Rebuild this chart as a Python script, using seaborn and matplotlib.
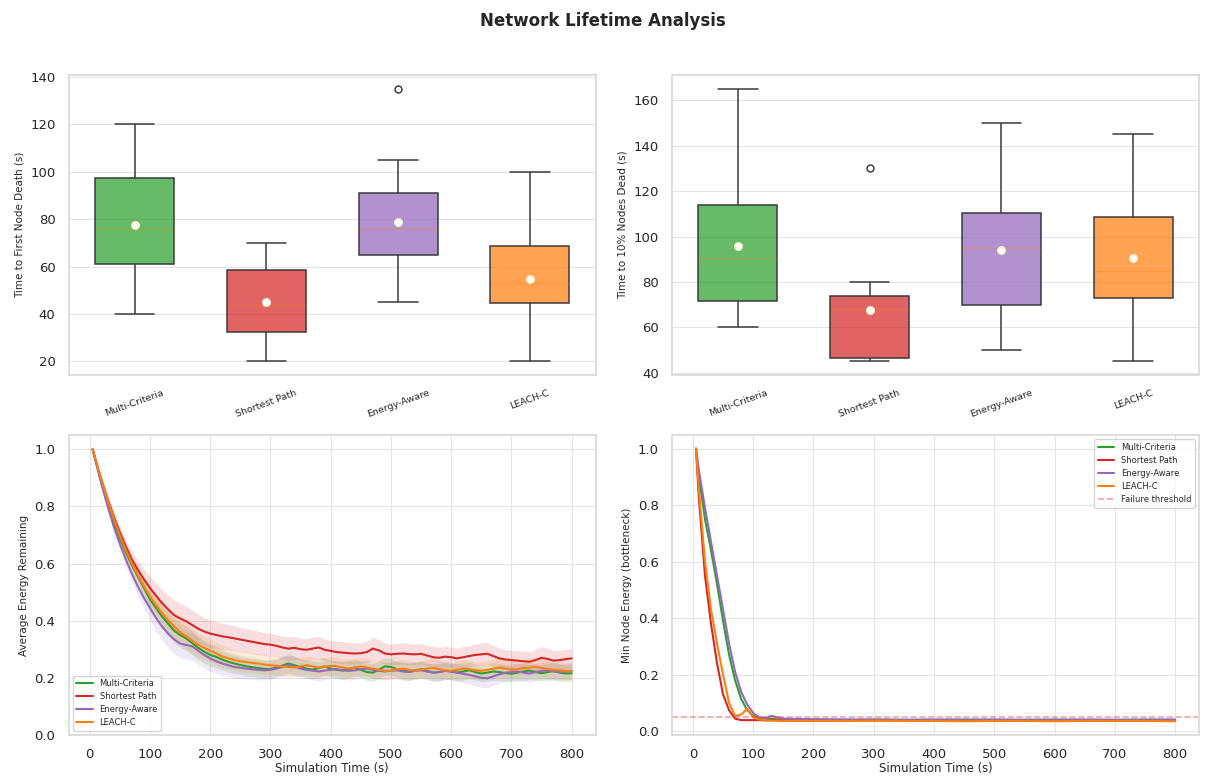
import numpy as np
import pandas as pd
import seaborn as sns
import matplotlib.pyplot as plt
from matplotlib.colors import to_rgba

protocols = ['Multi-Criteria', 'Shortest Path', 'Energy-Aware', 'LEACH-C']
colors = ['#2ca02c', '#d62728', '#9467bd', '#ff7f0e']

# time to first node death (s), per run
fnd_multi = [40, 50, 61, 70, 76, 85, 97.5, 98, 120]
fnd_shortest = [20, 28, 32.5, 40, 44, 50, 58.5, 62, 70]
fnd_energy = [45, 47, 65, 67, 76, 80, 91, 105, 135]
fnd_leach = [20, 32, 44.7, 47, 53, 58, 68.7, 71.6, 100]

# time to 10% nodes dead (s), per run
tnd_multi = [60, 65, 71.5, 80, 90, 100, 114, 118.5, 165]
tnd_shortest = [45, 46, 46.5, 48, 68, 70, 74, 80, 130]
tnd_energy = [50, 60, 70, 85, 95, 105, 110.5, 120.5, 150]
tnd_leach = [45, 60, 73, 80, 85, 100, 108.7, 118.7, 145]

# average remaining energy over time
avg_times = [5, 10, 20, 30, 40, 50, 60, 70, 80, 90,
             100, 110, 120, 130, 140, 150, 160, 170, 180, 190,
             200, 210, 220, 230, 240, 250, 260, 270, 280, 290,
             300, 310, 320, 330, 340, 350, 360, 370, 380, 390,
             400, 410, 420, 430, 440, 450, 460, 470, 480, 490,
             500, 510, 520, 530, 540, 550, 560, 570, 580, 590,
             600, 610, 620, 630, 640, 650, 660, 670, 680, 690,
             700, 710, 720, 730, 740, 750, 760, 770, 780, 790,
             800]

avg_multi = [1.0, 0.96, 0.88, 0.81, 0.745, 0.69, 0.64, 0.595, 0.555, 0.515,
             0.475, 0.445, 0.415, 0.39, 0.365, 0.35, 0.338, 0.322, 0.305, 0.292,
             0.28, 0.273, 0.264, 0.256, 0.25, 0.245, 0.24, 0.237, 0.234, 0.231,
             0.23, 0.236, 0.243, 0.25, 0.244, 0.237, 0.232, 0.228, 0.234, 0.24,
             0.232, 0.228, 0.225, 0.23, 0.236, 0.228, 0.22, 0.218, 0.228, 0.24,
             0.238, 0.23, 0.225, 0.222, 0.226, 0.23, 0.224, 0.218, 0.22, 0.225,
             0.222, 0.218, 0.222, 0.226, 0.22, 0.215, 0.218, 0.222, 0.22, 0.216,
             0.214, 0.218, 0.222, 0.225, 0.22, 0.216, 0.22, 0.224, 0.218, 0.215,
             0.216]
avg_shortest = [1.0, 0.962, 0.89, 0.825, 0.765, 0.71, 0.66, 0.615, 0.578, 0.545,
                0.515, 0.488, 0.462, 0.44, 0.42, 0.408, 0.398, 0.385, 0.372, 0.362,
                0.355, 0.35, 0.345, 0.342, 0.338, 0.334, 0.33, 0.326, 0.322, 0.318,
                0.316, 0.312, 0.306, 0.302, 0.305, 0.3, 0.298, 0.302, 0.306, 0.298,
                0.294, 0.29, 0.288, 0.286, 0.285, 0.286, 0.29, 0.302, 0.296, 0.285,
                0.282, 0.284, 0.285, 0.283, 0.282, 0.284, 0.278, 0.272, 0.27, 0.274,
                0.272, 0.268, 0.272, 0.276, 0.28, 0.282, 0.284, 0.276, 0.268, 0.264,
                0.262, 0.26, 0.258, 0.256, 0.262, 0.27, 0.266, 0.26, 0.262, 0.265,
                0.268]
avg_energy = [1.0, 0.958, 0.875, 0.8, 0.73, 0.67, 0.615, 0.565, 0.52, 0.48,
              0.445, 0.41, 0.38, 0.355, 0.335, 0.32, 0.315, 0.31, 0.295, 0.28,
              0.268, 0.258, 0.25, 0.244, 0.238, 0.235, 0.232, 0.23, 0.228, 0.226,
              0.228, 0.232, 0.238, 0.245, 0.24, 0.232, 0.228, 0.225, 0.222, 0.225,
              0.228, 0.23, 0.226, 0.224, 0.226, 0.23, 0.232, 0.228, 0.224, 0.222,
              0.225, 0.226, 0.222, 0.22, 0.224, 0.226, 0.222, 0.218, 0.22, 0.224,
              0.222, 0.218, 0.214, 0.21, 0.205, 0.2, 0.198, 0.205, 0.212, 0.218,
              0.22, 0.222, 0.218, 0.215, 0.22, 0.224, 0.226, 0.222, 0.22, 0.222,
              0.224]
avg_leach = [1.0, 0.962, 0.89, 0.822, 0.758, 0.7, 0.648, 0.602, 0.56, 0.522,
             0.485, 0.455, 0.428, 0.402, 0.38, 0.36, 0.345, 0.33, 0.315, 0.305,
             0.295, 0.285, 0.275, 0.268, 0.262, 0.258, 0.255, 0.252, 0.25, 0.246,
             0.244, 0.242, 0.24, 0.238, 0.236, 0.24, 0.244, 0.24, 0.236, 0.238,
             0.242, 0.24, 0.236, 0.232, 0.236, 0.24, 0.236, 0.232, 0.228, 0.224,
             0.226, 0.23, 0.232, 0.228, 0.225, 0.228, 0.232, 0.234, 0.23, 0.226,
             0.224, 0.228, 0.232, 0.23, 0.226, 0.224, 0.228, 0.232, 0.236, 0.232,
             0.228, 0.23, 0.234, 0.236, 0.238, 0.234, 0.23, 0.228, 0.226, 0.224,
             0.222]

# spread (std) across runs
sd_multi = [0.0, 0.004, 0.008, 0.012, 0.015, 0.018, 0.02, 0.023, 0.026, 0.029,
            0.032, 0.035, 0.038, 0.04, 0.042, 0.043, 0.043, 0.042, 0.041, 0.04,
            0.039, 0.038, 0.037, 0.036, 0.035, 0.034, 0.034, 0.033, 0.033, 0.032,
            0.032, 0.031, 0.033, 0.034, 0.032, 0.03, 0.031, 0.033, 0.032, 0.03,
            0.029, 0.03, 0.032, 0.031, 0.03, 0.028, 0.03, 0.032, 0.031, 0.03,
            0.029, 0.028, 0.03, 0.031, 0.03, 0.029, 0.028, 0.03, 0.031, 0.03,
            0.029, 0.03, 0.031, 0.03, 0.028, 0.029, 0.03, 0.031, 0.03, 0.029,
            0.028, 0.03, 0.031, 0.03, 0.029, 0.028, 0.03, 0.031, 0.03, 0.029,
            0.028]
sd_shortest = [0.0, 0.004, 0.009, 0.013, 0.017, 0.02, 0.024, 0.028, 0.032, 0.036,
               0.04, 0.044, 0.047, 0.05, 0.052, 0.053, 0.053, 0.052, 0.05, 0.049,
               0.048, 0.047, 0.046, 0.045, 0.044, 0.043, 0.042, 0.042, 0.041, 0.04,
               0.04, 0.039, 0.04, 0.041, 0.04, 0.038, 0.039, 0.04, 0.039, 0.038,
               0.037, 0.038, 0.039, 0.038, 0.037, 0.036, 0.038, 0.04, 0.039, 0.037,
               0.036, 0.037, 0.038, 0.037, 0.036, 0.035, 0.036, 0.038, 0.037, 0.036,
               0.035, 0.036, 0.037, 0.036, 0.038, 0.04, 0.039, 0.037, 0.036, 0.035,
               0.034, 0.035, 0.036, 0.035, 0.037, 0.039, 0.038, 0.036, 0.035, 0.034,
               0.034]
sd_energy = [0.0, 0.005, 0.01, 0.014, 0.018, 0.022, 0.026, 0.03, 0.034, 0.038,
             0.042, 0.045, 0.048, 0.05, 0.051, 0.05, 0.049, 0.048, 0.047, 0.046,
             0.045, 0.043, 0.041, 0.04, 0.039, 0.038, 0.037, 0.036, 0.035, 0.034,
             0.034, 0.033, 0.034, 0.035, 0.034, 0.032, 0.031, 0.032, 0.033, 0.032,
             0.031, 0.03, 0.031, 0.032, 0.031, 0.03, 0.029, 0.03, 0.031, 0.03,
             0.029, 0.03, 0.031, 0.03, 0.029, 0.028, 0.029, 0.03, 0.031, 0.03,
             0.029, 0.03, 0.031, 0.032, 0.033, 0.034, 0.033, 0.032, 0.031, 0.03,
             0.029, 0.03, 0.031, 0.03, 0.029, 0.03, 0.031, 0.03, 0.029, 0.028,
             0.029]
sd_leach = [0.0, 0.004, 0.008, 0.012, 0.016, 0.019, 0.022, 0.025, 0.028, 0.031,
            0.034, 0.037, 0.04, 0.042, 0.043, 0.044, 0.044, 0.043, 0.042, 0.041,
            0.04, 0.039, 0.038, 0.037, 0.036, 0.036, 0.035, 0.035, 0.034, 0.034,
            0.033, 0.033, 0.034, 0.035, 0.034, 0.033, 0.032, 0.033, 0.034, 0.033,
            0.032, 0.031, 0.032, 0.033, 0.032, 0.031, 0.03, 0.031, 0.032, 0.031,
            0.03, 0.031, 0.032, 0.031, 0.03, 0.031, 0.032, 0.033, 0.032, 0.031,
            0.03, 0.031, 0.032, 0.031, 0.03, 0.031, 0.032, 0.033, 0.032, 0.031,
            0.03, 0.031, 0.032, 0.033, 0.034, 0.033, 0.032, 0.031, 0.03, 0.03,
            0.03]

# minimum (bottleneck) node energy over time
min_times = [5, 10, 20, 30, 40, 50, 60, 70, 80, 90, 100, 110, 120, 130, 140, 150,
             200, 250, 300, 350, 400, 450, 500, 550, 600, 650, 700, 750, 800]
min_multi = [1.0, 0.9, 0.75, 0.64, 0.52, 0.39, 0.27, 0.18, 0.115, 0.075, 0.055, 0.047,
             0.045, 0.044, 0.043, 0.042,
             0.042, 0.041, 0.042, 0.041, 0.041, 0.042, 0.041, 0.041, 0.042, 0.041, 0.041, 0.042, 0.041]
min_shortest = [1.0, 0.82, 0.55, 0.38, 0.24, 0.13, 0.075, 0.045, 0.04, 0.04, 0.04, 0.04,
                0.039, 0.04, 0.04, 0.039,
                0.04, 0.04, 0.039, 0.04, 0.04, 0.039, 0.04, 0.04, 0.039, 0.04, 0.04, 0.039, 0.04]
min_energy = [1.0, 0.92, 0.79, 0.67, 0.55, 0.43, 0.31, 0.21, 0.14, 0.095, 0.065, 0.05,
              0.047, 0.055, 0.05, 0.045,
              0.043, 0.042, 0.042, 0.041, 0.042, 0.041, 0.042, 0.041, 0.041, 0.042, 0.041, 0.041, 0.042]
min_leach = [1.0, 0.85, 0.6, 0.43, 0.31, 0.2, 0.1, 0.055, 0.06, 0.08, 0.05, 0.042,
             0.04, 0.038, 0.038, 0.037,
             0.037, 0.037, 0.038, 0.037, 0.037, 0.036, 0.037, 0.037, 0.036, 0.037, 0.037, 0.037, 0.036]
failure_threshold = 0.05

lifetimes = pd.DataFrame({
    'Protocol': np.repeat(protocols, len(fnd_multi)),
    'first_death': fnd_multi + fnd_shortest + fnd_energy + fnd_leach,
    'ten_pct_dead': tnd_multi + tnd_shortest + tnd_energy + tnd_leach,
})

sns.set_theme(style='whitegrid')
plt.rcParams['font.family'] = ['DejaVu Sans']
plt.rcParams['grid.color'] = '#e4e4e4'
plt.rcParams['grid.linewidth'] = 0.8
plt.rcParams['axes.edgecolor'] = '#d9d9d9'

fig, axes = plt.subplots(2, 2, figsize=(12.05, 7.76), dpi=100)
fig.subplots_adjust(left=0.057, right=0.995, top=0.903, bottom=0.053, wspace=0.145, hspace=0.2)
fig.suptitle('Network Lifetime Analysis', fontsize=12, fontweight='bold', y=0.985, color='#262626')


def draw_box(ax, col, ylabel):
    sns.boxplot(data=lifetimes, x='Protocol', y=col, hue='Protocol', palette=colors,
                saturation=1, width=0.6, linecolor='#3a3a3a', linewidth=1.1,
                showmeans=True, legend=False, ax=ax,
                meanprops=dict(marker='o', markerfacecolor='white',
                               markeredgecolor='#f2efc4', markersize=5.5),
                medianprops=dict(color='#ff7f0e', alpha=0.3, linewidth=1),
                flierprops=dict(marker='o', markerfacecolor='white',
                                markeredgecolor='#333333', markersize=5))
    for patch in ax.patches:
        patch.set_facecolor(to_rgba(patch.get_facecolor(), 0.72))
    ax.set_xlabel('')
    ax.set_ylabel(ylabel, fontsize=7.5)
    ax.tick_params(axis='x', labelsize=6.8, rotation=20)
    ax.tick_params(axis='y', labelsize=9.5)


draw_box(axes[0, 0], 'first_death', 'Time to First Node Death (s)')
draw_box(axes[0, 1], 'ten_pct_dead', 'Time to 10% Nodes Dead (s)')

# average energy
ax = axes[1, 0]
for name, color, mean, sd in zip(protocols, colors,
                                  [avg_multi, avg_shortest, avg_energy, avg_leach],
                                  [sd_multi, sd_shortest, sd_energy, sd_leach]):
    sns.lineplot(x=avg_times, y=mean, color=color, linewidth=1.5, label=name, ax=ax)
    lo = np.array(mean) - np.array(sd)
    hi = np.array(mean) + np.array(sd)
    ax.fill_between(avg_times, lo, hi, color=color, alpha=0.15, linewidth=0)
ax.set_ylim(0, 1.05)
ax.set_xlabel('Simulation Time (s)', fontsize=8.4, labelpad=1)
ax.set_ylabel('Average Energy Remaining', fontsize=7.5)
ax.tick_params(labelsize=9.5)
ax.legend(loc='lower left', fontsize=6, frameon=True)

# bottleneck energy
ax = axes[1, 1]
for name, color, vals in zip(protocols, colors,
                             [min_multi, min_shortest, min_energy, min_leach]):
    sns.lineplot(x=min_times, y=vals, color=color, linewidth=1.5, label=name, ax=ax)
ax.axhline(failure_threshold, color='#e8454a', linestyle='--', linewidth=1.2, alpha=0.5,
           label='Failure threshold')
ax.set_xlabel('Simulation Time (s)', fontsize=8.4, labelpad=1)
ax.set_ylabel('Min Node Energy (bottleneck)', fontsize=7.5)
ax.tick_params(labelsize=9.5)
ax.legend(loc='upper right', fontsize=6, frameon=True)

fig.savefig('out.png', dpi=100)
